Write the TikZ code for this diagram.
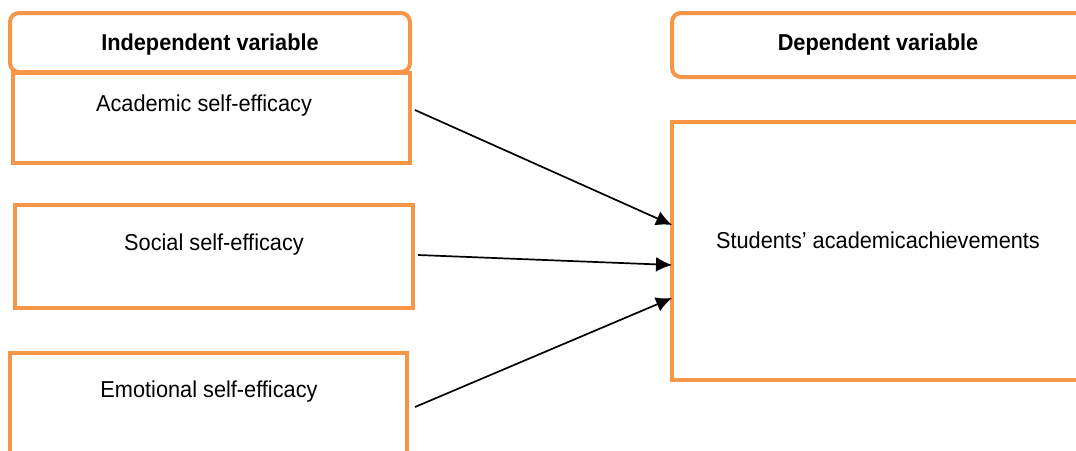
\documentclass[tikz,border=0pt]{standalone}
\usepackage{fontspec}
\setmainfont{Liberation Sans}
\usetikzlibrary{arrows.meta}
\definecolor{boxorange}{HTML}{F79646}
\begin{document}
\begin{tikzpicture}[x=1pt,y=-1pt]
\tikzstyle{every node}+=[inner sep=0pt,outer sep=0pt]
\tikzstyle{varbox}=[draw=boxorange,line width=4pt,anchor=north west]
\tikzstyle{headbox}=[varbox,rounded corners=9pt]
\tikzstyle{vartext}=[xscale=0.945,font=\fontsize{23}{27}\selectfont]
\tikzstyle{headtext}=[vartext,font=\fontsize{23}{27}\selectfont\bfseries]
\tikzstyle{link}=[black,line width=1.7pt,-{Latex[length=16pt,width=15pt]}]
\useasboundingbox (0,0) rectangle (1076,450);
\clip (0,0) rectangle (1076,450);
% left column
\node [varbox,minimum width=397pt,minimum height=90pt] (acad) at (13,73) {};
\node [headbox,minimum width=400pt,minimum height=59pt,fill=white] (indep) at (10,13) {};
\node [varbox,minimum width=398pt,minimum height=103pt] (social) at (15,205) {};
\node [varbox,minimum width=397pt,minimum height=112pt] (emo) at (10,353) {};
\draw (210,45) node [headtext] (indeptxt) {Independent variable};
\draw (204,106) node [vartext] (acadtxt) {Academic self-efficacy};
\draw (214,245) node [vartext] (socialtxt) {Social self-efficacy};
\draw (209,392) node [vartext] (emotxt) {Emotional self-efficacy};
% right column
\node [headbox,minimum width=412pt,minimum height=64pt] (dep) at (672,13) {};
\node [varbox,minimum width=420pt,minimum height=258pt] (stud) at (672,122) {};
\draw (878,45) node [headtext] (deptxt) {Dependent variable};
\draw (878,240) node [vartext] (studtxt) {Students’ academicachievements};
% links
\draw [link] ([xshift=5pt,yshift=8pt]acad.east) -- ([yshift=26pt]stud.west);
\draw [link] ([xshift=5pt,yshift=1.5pt]social.east) -- ([yshift=-14pt]stud.west);
\draw [link] ([xshift=8pt]emo.east |- 0,407) -- ([yshift=-47pt]stud.west);
\end{tikzpicture}
\end{document}
